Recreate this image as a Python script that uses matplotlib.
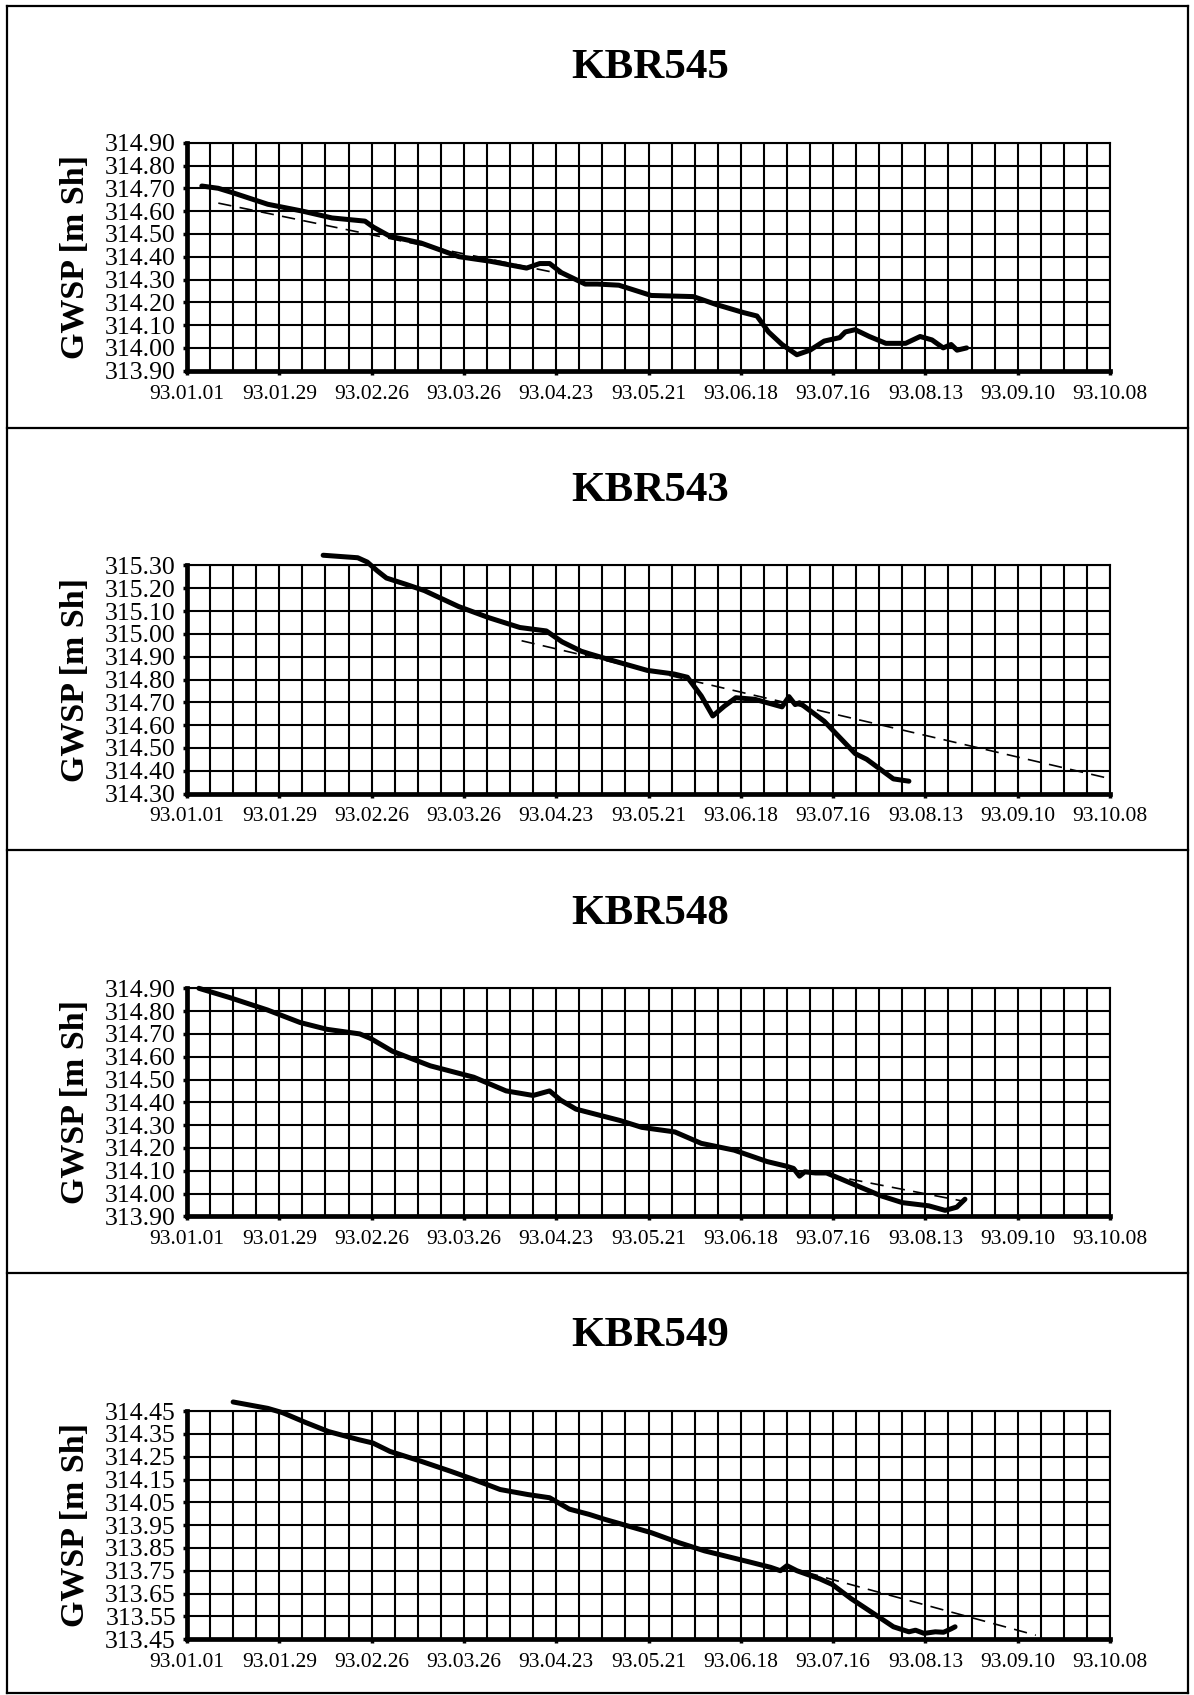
import numpy as np
import matplotlib
matplotlib.use("Agg")
import matplotlib.pyplot as plt
import matplotlib.dates as mdates
from matplotlib.lines import Line2D
from matplotlib.ticker import FixedLocator, FormatStrFormatter

plt.rcParams['font.family'] = ['Liberation Serif', 'DejaVu Serif']

START = np.datetime64('1993-01-01')
END = np.datetime64('1993-10-08')

# Water levels, x given as days after 93.01.01
kbr545_days = [4.5, 9.5, 14, 24.5, 35, 44, 54, 56.5, 61.5, 71, 82.5, 92, 103, 107, 110,
               113.6, 120.8, 124.5, 131, 140.8, 153.6, 160.6, 168.8, 172.9, 176.4, 180.5,
               185, 189, 193.3, 198, 199.7, 202.7, 207, 212, 218, 222.4, 226, 229.4,
               231.8, 233.6, 236.5]
kbr545_vals = [314.71, 314.70, 314.68, 314.63, 314.60, 314.57, 314.556, 314.53, 314.49,
               314.46, 314.40, 314.38, 314.35, 314.37, 314.37, 314.33, 314.28, 314.28,
               314.275, 314.23, 314.225, 314.19, 314.155, 314.14, 314.07, 314.015,
               313.97, 313.99, 314.03, 314.045, 314.07, 314.08, 314.05, 314.02, 314.02,
               314.05, 314.035, 314.00, 314.015, 313.99, 314.00]
kbr545_trend_days = [9.5, 115]
kbr545_trend_vals = [314.635, 314.32]

kbr543_days = [41.3, 51.8, 54.7, 57.6, 60.5, 66.3, 72, 82.4, 91.8, 101, 109, 113.8,
               119.6, 122, 127.9, 139.6, 147.8, 151.8, 156, 159.5, 163, 166.5, 172.3,
               180.5, 182.6, 184.5, 185.8, 193.3, 196.8, 202.7, 206.2, 210.9, 214.3, 219]
kbr543_vals = [315.345, 315.334, 315.315, 315.278, 315.245, 315.218, 315.19, 315.12,
               315.07, 315.028, 315.013, 314.965, 314.924, 314.913, 314.888, 314.84,
               314.824, 314.81, 314.728, 314.64, 314.683, 314.72, 314.713, 314.68,
               314.725, 314.69, 314.698, 314.617, 314.564, 314.475, 314.45, 314.40,
               314.364, 314.354]
kbr543_trend_days = [101.5, 280]
kbr543_trend_vals = [314.97, 314.365]

kbr548_days = [3.6, 12.8, 24.4, 34.3, 42.5, 52.4, 55.7, 62.3, 73.8, 87, 96.8, 105, 110,
               113.3, 118, 131.4, 138, 148, 156, 166, 176, 181.8, 184, 185.8, 187.4,
               190.7, 194, 199, 203.9, 210.5, 217, 225, 230, 233.5, 236]
kbr548_vals = [314.90, 314.86, 314.805, 314.75, 314.72, 314.70, 314.68, 314.624, 314.56,
               314.51, 314.45, 314.43, 314.45, 314.41, 314.37, 314.32, 314.29, 314.27,
               314.22, 314.19, 314.14, 314.12, 314.11, 314.076, 314.095, 314.09, 314.09,
               314.06, 314.03, 313.99, 313.96, 313.946, 313.926, 313.94, 313.975]
kbr548_trend_days = [188, 236]
kbr548_trend_vals = [314.10, 313.965]

kbr549_days = [14, 24.5, 29, 36, 43, 52.3, 56.4, 61.6, 71, 80, 87, 95, 103.4, 110, 116,
               122, 126.8, 133.8, 140.8, 149, 157, 171, 177, 180, 182, 185, 192, 195.7,
               201.5, 208.5, 214.3, 219, 221, 223.6, 227, 229.5, 231.8, 233]
kbr549_vals = [314.49, 314.462, 314.443, 314.40, 314.36, 314.324, 314.31, 314.273,
               314.23, 314.186, 314.15, 314.106, 314.084, 314.07, 314.02, 313.997,
               313.975, 313.946, 313.917, 313.874, 313.837, 313.787, 313.765, 313.75,
               313.772, 313.75, 313.714, 313.69, 313.627, 313.56, 313.504, 313.482,
               313.489, 313.475, 313.482, 313.48, 313.495, 313.504]
kbr549_trend_days = [187.5, 257.5]
kbr549_trend_vals = [313.744, 313.467]

titles = ["KBR545", "KBR543", "KBR548", "KBR549"]
y_bottoms = [313.90, 314.30, 313.90, 313.45]
series = [
    (kbr545_days, kbr545_vals, kbr545_trend_days, kbr545_trend_vals),
    (kbr543_days, kbr543_vals, kbr543_trend_days, kbr543_trend_vals),
    (kbr548_days, kbr548_vals, kbr548_trend_days, kbr548_trend_vals),
    (kbr549_days, kbr549_vals, kbr549_trend_days, kbr549_trend_vals),
]


def to_dates(days):
    return START + np.round(np.asarray(days) * 24 * 60).astype('timedelta64[m]')


W, H = 1194, 1695
fig = plt.figure(figsize=(W / 100, H / 100), dpi=100)

# page frame and panel separators
def hline(y, x0=7, x1=1188, lw=1.6):
    fig.add_artist(Line2D([x0 / W, x1 / W], [1 - y / H, 1 - y / H], color='black', lw=lw))

def vline(x, y0=6, y1=1693, lw=1.6):
    fig.add_artist(Line2D([x / W, x / W], [1 - y0 / H, 1 - y1 / H], color='black', lw=lw))

PLOT_LEFT, PLOT_RIGHT = 187, 1110
PLOT_TOP0, STEP, PLOT_H = 142.7, 422.8, 228

for yb in [6, 428, 850.5, 1273, 1693]:
    hline(yb)
vline(7)
vline(1188)

major_dates = np.arange(START, END + np.timedelta64(1, 'D'), np.timedelta64(28, 'D'))
minor_dates = np.arange(START, END + np.timedelta64(1, 'D'), np.timedelta64(7, 'D'))

for i, (title, yb, (d, v, td, tv)) in enumerate(zip(titles, y_bottoms, series)):
    top = PLOT_TOP0 + STEP * i
    ax = fig.add_axes([PLOT_LEFT / W, 1 - (top + PLOT_H) / H,
                       (PLOT_RIGHT - PLOT_LEFT) / W, PLOT_H / H])
    yt = np.round(yb + 0.1 * np.arange(11), 2)
    ax.set_xlim(START, END)
    ax.set_ylim(yt[0], yt[-1])

    ax.xaxis.set_major_locator(FixedLocator(mdates.date2num(major_dates)))
    ax.xaxis.set_minor_locator(FixedLocator(mdates.date2num(minor_dates)))
    ax.xaxis.set_major_formatter(mdates.DateFormatter('%y.%m.%d'))
    ax.set_yticks(yt)
    ax.yaxis.set_major_formatter(FormatStrFormatter('%.2f'))

    ax.grid(True, which='both', axis='x', color='black', lw=1.5)
    ax.grid(True, which='major', axis='y', color='black', lw=1.5)
    ax.set_axisbelow(True)
    ax.tick_params(axis='x', which='major', length=3, width=2.5, pad=7, labelsize=15.5)
    ax.tick_params(axis='x', which='minor', length=0)
    ax.tick_params(axis='y', which='major', length=3, width=2.5, pad=5, labelsize=18.5)
    for s in ['left', 'bottom']:
        ax.spines[s].set_linewidth(3.4)
    for s in ['top', 'right']:
        ax.spines[s].set_linewidth(1.5)

    ax.plot(to_dates(td), tv, color='black', lw=1.2, dashes=(8, 5), zorder=3)
    ax.plot(to_dates(d), v, color='black', lw=3.6, solid_joinstyle='round',
            solid_capstyle='round', clip_on=False, zorder=4)

    fig.text(650 / W, 1 - (68 + STEP * i) / H, title, ha='center', va='center',
             fontsize=31, fontweight='bold')
    fig.text(75 / W, 1 - (top + PLOT_H / 2) / H, "GWSP [m Sh]", ha='center', va='center',
             rotation=90, fontsize=24.5, fontweight='bold')

fig.savefig("out.png", dpi=100)
